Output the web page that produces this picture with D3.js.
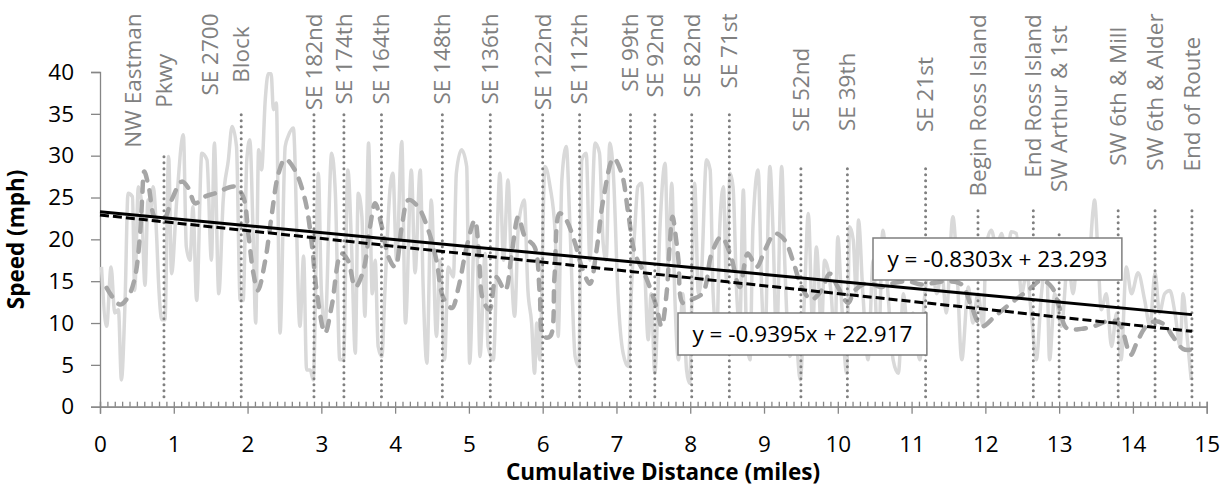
<!DOCTYPE html>
<html>
<head>
<meta charset="utf-8">
<script src="https://cdn.jsdelivr.net/npm/d3@7"></script>
<style>
  body { margin: 0; background: #fff; }
  text { font-family: "Open Sans", Lato, sans-serif; }
</style>
</head>
<body>
<div id="chart"></div>
<script>
// raw speed trace: [cumulative miles, mph]
var rawSpeed = [
  [0.02,16.7],[0.09,9.6],[0.15,16.7],[0.20,11.2],[0.25,11.6],[0.29,3.2],[0.34,12.7],[0.38,25.5],[0.44,25.1],[0.47,13.9],
  [0.52,26.3],[0.56,24.7],[0.61,14.5],[0.65,24.7],[0.68,23.1],[0.72,26.3],[0.77,19.9],[0.79,15.5],[0.84,10.4],[0.88,10.4],
  [0.93,29.9],[0.97,15.9],[1.04,24.7],[1.13,32.5],[1.17,19.1],[1.22,17.5],[1.26,23.9],[1.31,12.7],[1.38,30.3],[1.45,29.5],
  [1.51,17.5],[1.55,31.5],[1.61,13.5],[1.67,24.7],[1.74,29.5],[1.79,33.5],[1.85,31.1],[1.90,12.7],[1.94,12.7],[1.99,29.5],
  [2.03,31.9],[2.08,19.1],[2.11,10.0],[2.15,30.7],[2.19,28.3],[2.24,36.7],[2.28,39.8],[2.32,39.8],[2.35,35.5],[2.39,36.3],
  [2.44,8.8],[2.51,31.1],[2.55,32.3],[2.62,33.3],[2.71,9.6],[2.76,18.0],[2.80,4.4],[2.85,4.4],[2.89,3.2],[2.96,27.9],
  [3.00,13.9],[3.05,9.6],[3.14,30.3],[3.19,25.5],[3.25,5.6],[3.30,5.6],[3.36,28.3],[3.41,19.1],[3.46,6.4],[3.50,25.5],
  [3.55,22.7],[3.59,10.8],[3.64,31.5],[3.69,13.5],[3.73,17.5],[3.77,7.2],[3.82,6.0],[3.86,13.5],[3.93,25.9],[3.97,27.9],
  [4.02,17.5],[4.09,31.7],[4.14,10.0],[4.22,28.3],[4.27,16.0],[4.34,28.3],[4.38,14.3],[4.43,5.2],[4.49,24.7],[4.56,8.4],
  [4.61,17.5],[4.67,5.6],[4.72,16.7],[4.79,15.5],[4.83,27.9],[4.90,30.7],[4.97,28.7],[5.01,5.2],[5.08,21.5],[5.12,16.0],
  [5.15,6.0],[5.22,18.3],[5.26,7.2],[5.33,5.6],[5.42,27.9],[5.47,17.5],[5.53,27.1],[5.58,15.5],[5.62,10.8],[5.67,21.5],
  [5.75,24.7],[5.80,13.9],[5.85,10.0],[5.89,4.0],[5.92,10.0],[5.96,5.6],[6.03,28.7],[6.10,26.3],[6.17,20.7],[6.21,8.4],
  [6.26,27.1],[6.32,31.1],[6.37,21.5],[6.44,6.0],[6.49,4.8],[6.53,29.5],[6.59,30.3],[6.64,17.5],[6.71,31.5],[6.77,30.3],
  [6.82,19.5],[6.86,17.5],[6.91,31.5],[6.96,27.5],[7.02,13.5],[7.09,6.4],[7.16,4.8],[7.20,13.5],[7.25,21.5],[7.29,26.3],
  [7.34,26.7],[7.39,15.1],[7.43,8.0],[7.47,13.5],[7.52,4.0],[7.59,21.5],[7.66,29.1],[7.70,17.0],[7.75,26.7],[7.79,13.5],
  [7.84,5.6],[7.90,13.5],[7.95,4.4],[7.99,2.8],[8.06,26.7],[8.11,13.5],[8.15,15.5],[8.22,29.5],[8.27,28.3],[8.31,13.5],
  [8.36,8.8],[8.40,21.5],[8.45,26.3],[8.49,15.1],[8.54,27.9],[8.58,26.3],[8.63,13.5],[8.67,9.2],[8.72,25.9],[8.76,9.6],
  [8.81,5.6],[8.85,21.5],[8.92,28.3],[8.97,13.5],[9.01,7.2],[9.08,28.7],[9.12,21.5],[9.17,8.0],[9.24,28.7],[9.28,17.5],
  [9.35,6.0],[9.42,9.6],[9.49,3.2],[9.55,13.5],[9.60,23.1],[9.66,9.6],[9.71,19.1],[9.78,9.2],[9.82,17.5],[9.91,13.5],
  [9.96,7.2],[10.00,20.3],[10.05,12.7],[10.12,4.0],[10.16,21.5],[10.21,19.9],[10.25,13.5],[10.28,22.3],[10.34,13.5],[10.41,5.6],
  [10.48,17.5],[10.55,6.4],[10.61,21.1],[10.68,13.5],[10.75,5.6],[10.82,4.0],[10.89,13.5],[10.95,8.8],[11.02,11.2],[11.11,5.6],
  [11.18,13.5],[11.27,17.5],[11.34,13.5],[11.41,16.0],[11.47,11.2],[11.56,22.7],[11.61,17.5],[11.68,5.6],[11.77,14.3],[11.83,10.0],
  [11.90,13.5],[11.97,9.6],[12.01,19.1],[12.08,21.1],[12.15,19.1],[12.22,20.7],[12.29,17.5],[12.35,20.9],[12.42,20.7],[12.49,13.5],
  [12.56,16.0],[12.63,10.4],[12.69,5.6],[12.76,13.5],[12.83,17.5],[12.87,5.6],[12.94,13.5],[13.03,9.6],[13.12,17.5],[13.19,13.5],
  [13.26,19.1],[13.33,16.0],[13.39,16.0],[13.46,23.5],[13.48,24.7],[13.53,17.5],[13.57,11.6],[13.64,13.5],[13.71,7.2],[13.78,11.2],
  [13.84,5.6],[13.91,16.7],[13.98,13.5],[14.07,16.0],[14.16,12.7],[14.23,9.6],[14.30,16.0],[14.36,11.2],[14.43,13.5],[14.50,13.9],
  [14.57,11.2],[14.64,7.2],[14.68,13.5],[14.73,8.8],[14.79,3.2]
];

// smoothed speed (dashed gray)
var smoothSpeed = [
  [0.09,14.2],[0.27,12.2],[0.38,13.1],[0.47,15.3],[0.54,20.3],[0.57,24.7],[0.60,28.1],[0.66,26.3],[0.75,22.5],[0.86,22.3],
  [0.97,24.7],[1.11,26.9],[1.20,26.1],[1.29,24.3],[1.42,25.1],[1.56,25.5],[1.83,26.3],[1.94,25.1],[2.01,20.7],[2.08,15.9],
  [2.14,13.9],[2.24,17.5],[2.33,23.1],[2.42,27.9],[2.51,29.6],[2.64,28.3],[2.78,24.7],[2.87,19.5],[2.94,13.6],[3.05,8.8],
  [3.14,12.0],[3.27,18.3],[3.36,17.5],[3.46,14.3],[3.57,16.3],[3.66,21.5],[3.73,24.3],[3.82,21.5],[3.91,17.9],[4.00,16.7],
  [4.09,21.5],[4.18,24.7],[4.31,23.9],[4.45,21.1],[4.56,17.5],[4.65,13.1],[4.77,11.8],[4.86,14.3],[4.97,19.1],[5.08,22.3],
  [5.13,19.1],[5.19,12.8],[5.28,11.6],[5.37,15.5],[5.49,13.9],[5.58,18.3],[5.67,22.7],[5.76,20.3],[5.89,19.1],[5.96,13.6],
  [6.01,8.4],[6.10,8.4],[6.16,15.5],[6.23,23.1],[6.32,22.3],[6.44,19.5],[6.53,16.7],[6.64,14.7],[6.73,18.7],[6.82,24.7],
  [6.96,29.7],[7.07,27.9],[7.16,23.1],[7.25,18.3],[7.38,15.9],[7.54,12.0],[7.61,9.6],[7.68,13.6],[7.72,19.1],[7.76,22.7],
  [7.81,19.9],[7.84,17.5],[7.90,12.4],[8.02,12.8],[8.17,13.6],[8.29,18.3],[8.42,20.3],[8.54,18.3],[8.67,14.3],[8.78,18.3],
  [8.90,16.7],[9.01,18.7],[9.15,20.7],[9.28,19.9],[9.39,17.5],[9.51,14.3],[9.64,12.8],[9.78,13.9],[9.89,15.9],[10.00,14.3],
  [10.14,12.4],[10.23,13.9],[10.41,14.8],[10.59,14.3],[10.77,14.8],[10.95,15.0],[11.13,14.6],[11.31,14.8],[11.49,15.0],[11.68,14.6],
  [11.81,12.0],[11.95,9.6],[12.13,10.8],[12.35,12.4],[12.58,13.9],[12.76,15.1],[12.90,14.3],[13.00,12.0],[13.10,9.4],[13.30,9.3],
  [13.50,9.7],[13.64,10.2],[13.78,10.2],[13.84,9.6],[13.97,6.2],[14.05,7.6],[14.18,9.6],[14.30,10.2],[14.43,9.8],[14.54,8.4],
  [14.68,6.9],[14.78,6.8]
];

// route landmarks
var landmarkNames = [
  ["NW Eastman","Pkwy"],["SE 2700","Block"],["SE 182nd"],["SE 174th"],["SE 164th"],["SE 148th"],["SE 136th"],
  ["SE 122nd"],["SE 112th"],["SE 99th"],["SE 92nd"],["SE 82nd"],["SE 71st"],["SE 52nd"],["SE 39th"],["SE 21st"],
  ["Begin Ross Island"],["End Ross Island"],["SW Arthur & 1st"],["SW 6th & Mill"],["SW 6th & Alder"],["End of Route"]
];
var landmarkMiles = [0.867,1.914,2.90,3.306,3.815,4.64,5.29,6.00,6.50,7.19,7.52,8.02,8.53,9.50,10.13,11.19,11.90,12.65,13.00,13.80,14.30,14.80];
var landmarkTop = [30,35,35,35,35,35,35,35,35,35,35,35,35,29,29,29,24,24,21,24,24,24];

// linear trendlines (raw, smoothed)
var trendSlope = [-0.8303, -0.9395];
var trendIntercept = [23.293, 22.917];
var trendLabels = ["y = -0.8303x + 23.293", "y = -0.9395x + 22.917"];

var xTicks = [0,1,2,3,4,5,6,7,8,9,10,11,12,13,14,15];
var yTicks = [0,5,10,15,20,25,30,35,40];

// label layout (top of rotated label, in mph units above the plot)
var labelTop = [47,47,47,47,47,47,47,47,47,47,47,47,47,42.9,42.3,41.8,46.9,46.9,45.6,45.4,47,44.2];
var eqBox = [{left: 873, top: 238}, {left: 678, top: 313}];

var width = 1228, height = 487;
var axisColor = "#868686", labelGray = "#808080";
var fontSize = "22.5px";

var svg = d3.select("#chart").append("svg")
    .attr("width", width)
    .attr("height", height);

var x = d3.scaleLinear().domain([0, 15]).range([100, 1206.7]);
var y = d3.scaleLinear().domain([0, 40]).range([406.7, 72]);

// y axis
var yAxis = svg.append("g")
    .attr("transform", "translate(" + x(0) + ",0)")
    .call(d3.axisLeft(y).tickValues(yTicks).tickSize(9).tickPadding(17));
// x axis, minor ticks inside, major ticks outside
var xMinor = svg.append("g")
    .attr("transform", "translate(0," + y(0) + ")")
    .call(d3.axisBottom(x).tickValues(d3.range(0, 150.5, 1).map(function(d){ return d / 10; }))
      .tickSize(-5).tickFormat(""));
var xAxis = svg.append("g")
    .attr("transform", "translate(0," + y(0) + ")")
    .call(d3.axisBottom(x).tickValues(xTicks).tickSize(7).tickPadding(22));

[yAxis, xAxis, xMinor].forEach(function(g){
  g.selectAll("path, line").attr("stroke", axisColor).attr("stroke-width", 1.3);
  g.selectAll("text").attr("fill", "#000").style("font-size", fontSize).style("font-family", "Open Sans");
});

// raw speed
svg.append("path")
    .datum(rawSpeed)
    .attr("fill", "none")
    .attr("stroke", "#d9d9d9")
    .attr("stroke-width", 3.5)
    .attr("stroke-linejoin", "round")
    .attr("d", d3.line().curve(d3.curveMonotoneX)
      .x(function(d){ return x(d[0]); })
      .y(function(d){ return y(d[1]); }));

// smoothed speed
svg.append("path")
    .datum(smoothSpeed)
    .attr("fill", "none")
    .attr("stroke", "#a6a6a6")
    .attr("stroke-width", 4.5)
    .attr("stroke-linecap", "round")
    .attr("stroke-dasharray", "10,10")
    .attr("d", d3.line().curve(d3.curveCatmullRom)
      .x(function(d){ return x(d[0]); })
      .y(function(d){ return y(d[1]); }));

// landmark drop lines
svg.selectAll(".landmark")
    .data(landmarkMiles)
  .enter().append("line")
    .attr("class", "landmark")
    .attr("x1", function(d){ return x(d); })
    .attr("x2", function(d){ return x(d); })
    .attr("y1", y(1.2))
    .attr("y2", function(d, i){ return y(landmarkTop[i]); })
    .attr("stroke", labelGray)
    .attr("stroke-width", 3)
    .attr("stroke-linecap", "round")
    .attr("stroke-dasharray", "0,6");

// trendlines
var trendDash = [null, "9,4"];
trendSlope.forEach(function(m, i){
  svg.append("line")
    .attr("x1", x(0))
    .attr("y1", y(trendIntercept[i]))
    .attr("x2", x(14.8))
    .attr("y2", y(m * 14.8 + trendIntercept[i]))
    .attr("stroke", "#000")
    .attr("stroke-width", 3)
    .attr("stroke-dasharray", trendDash[i]);
});

// landmark labels, rotated, last line sits on the drop line
landmarkNames.forEach(function(lines, i){
  var g = svg.append("g");
  var texts = lines.map(function(s, j){
    return g.append("text")
      .attr("fill", labelGray)
      .style("font-size", fontSize)
      .attr("text-anchor", "middle")
      .attr("dy", "0.35em")
      .text(s);
  });
  var len = d3.max(texts, function(t){ return t.node().getComputedTextLength(); });
  var cy = y(labelTop[i]) + len / 2;
  texts.forEach(function(t, j){
    var cx = x(landmarkMiles[i]) - (lines.length - 1 - j) * 31;
    t.attr("transform", "translate(" + cx + "," + cy + ") rotate(-90)");
  });
});

// trendline equations
trendLabels.forEach(function(s, i){
  var g = svg.append("g");
  var r = g.append("rect")
    .attr("fill", "#fff")
    .attr("stroke", "#7f7f7f")
    .attr("stroke-width", 1.5);
  var t = g.append("text")
    .style("font-size", fontSize)
    .attr("fill", "#000")
    .attr("text-anchor", "middle")
    .text(s);
  var w = t.node().getComputedTextLength() + 29;
  r.attr("x", eqBox[i].left).attr("y", eqBox[i].top).attr("width", w).attr("height", 42);
  t.attr("x", eqBox[i].left + w / 2).attr("y", eqBox[i].top + 29);
});

// axis titles
svg.append("text")
    .attr("transform", "translate(24," + ((y(0) + y(40)) / 2) + ") rotate(-90)")
    .attr("text-anchor", "middle")
    .style("font-size", fontSize)
    .style("font-weight", "bold")
    .text("Speed (mph)");

svg.append("text")
    .attr("x", 663)
    .attr("y", 480)
    .attr("text-anchor", "middle")
    .style("font-size", fontSize)
    .style("font-weight", "bold")
    .text("Cumulative Distance (miles)");
</script>
</body>
</html>
